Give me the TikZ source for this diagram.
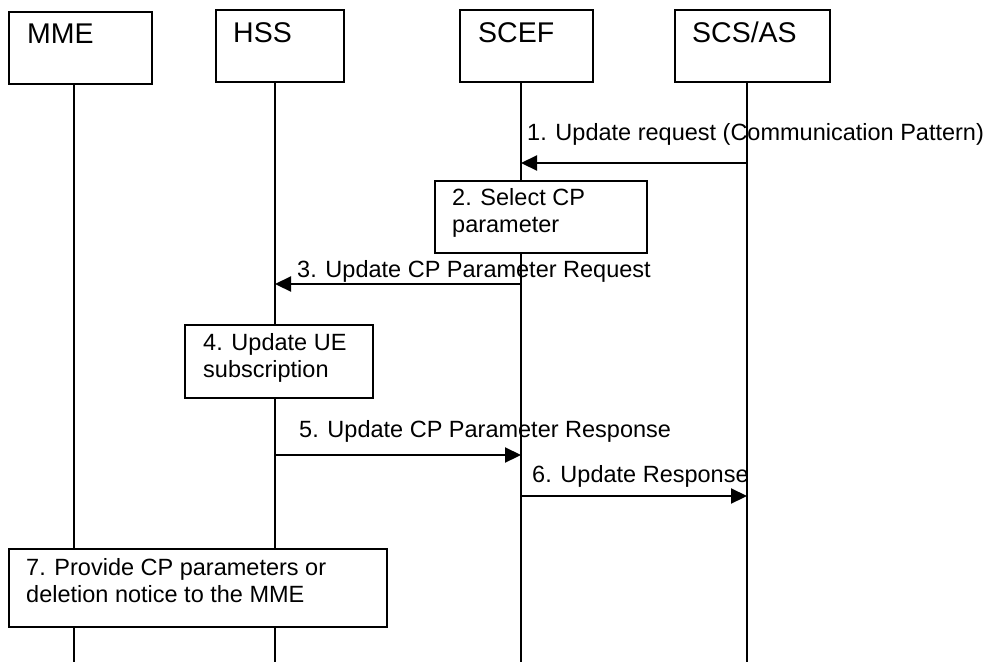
\documentclass[tikz,border=0pt]{standalone}
\usepackage{fontspec}
\setmainfont{Liberation Sans}
\usetikzlibrary{arrows.meta}
\tikzset{
	entbox/.style={draw, line width=1.9pt, fill=white, inner sep=0pt},
	headtxt/.style={anchor=base west, inner sep=0pt, font=\fontsize{28.5}{32}\selectfont},
	msgtxt/.style={anchor=base west, inner sep=0pt, font=\fontsize{23.5}{26.5}\selectfont},
	steptxt/.style={msgtxt, align=left},
	lifeline/.style={line width=1.6pt},
	msg/.style={line width=2.2pt, -{Triangle[length=16pt,width=15pt]}},
}
\begin{document}
\begin{tikzpicture}[x=1pt,y=-1pt]
	\useasboundingbox (0,0) rectangle (991,662);
	%entities
	\node[entbox, minimum width=143pt, minimum height=72pt] (mme) at (80.5,48) {};
	\node[entbox, minimum width=128pt, minimum height=72pt] (hss) at (280,46) {};
	\node[entbox, minimum width=133pt, minimum height=72pt] (scef) at (526.5,46) {};
	\node[entbox, minimum width=155pt, minimum height=72pt] (scs) at (752.5,46) {};
	% Text Node
	\node[headtxt] (mmeL) at (27,43) {MME};
	\node[headtxt] (hssL) at (233,42) {HSS};
	\node[headtxt] (scefL) at (478,42) {SCEF};
	\node[headtxt] (scsL) at (692,42) {SCS/AS};
	
	%lifelines
	\coordinate (mmeE) at (74,662);
	\coordinate (hssE) at (275,662);
	\coordinate (scefE) at (521,662);
	\coordinate (scsE) at (747,662);
	\draw[lifeline] (mmeE |- mme.south) -- (mmeE);
	\draw[lifeline] (hssE |- hss.south) -- (hssE);
	\draw[lifeline] (scefE |- scef.south) -- (scefE);
	\draw[lifeline] (scsE |- scs.south) -- (scsE);
	
	%messages
	\coordinate (m1) at (0,163);
	\coordinate (m3) at (0,284);
	\coordinate (m5) at (0,455);
	\coordinate (m6) at (0,496);
	\draw[msg] (scsE |- m1) -- (scefE |- m1);
	\draw[msg] (scefE |- m3) -- (hssE |- m3);
	\draw[msg] (hssE |- m5) -- (scefE |- m5);
	\draw[msg] (scefE |- m6) -- (scsE |- m6);
	% Text Node
	\node[msgtxt] (t1) at (527,140) {1. Update request (Communication Pattern)};
	\node[msgtxt] (t3) at (297,277) {3. Update CP Parameter Request};
	\node[msgtxt] (t5) at (299,437) {5. Update CP Parameter Response};
	\node[msgtxt] (t6) at (532,482) {6. Update Response};
	
	%steps
	\node[entbox, minimum width=212pt, minimum height=72pt] (s2) at (541,217) {};
	\node[entbox, minimum width=188pt, minimum height=73pt] (s4) at (279,361.5) {};
	\node[entbox, minimum width=378pt, minimum height=78pt] (s7) at (198,588) {};
	% Text Node
	\node[steptxt] (s2L) at (452,232) {2. Select CP\\parameter};
	\node[steptxt] (s4L) at (203,377) {4. Update UE\\subscription};
	\node[steptxt] (s7L) at (26,602) {7. Provide CP parameters or\\deletion notice to the MME};
\end{tikzpicture}
\end{document}
